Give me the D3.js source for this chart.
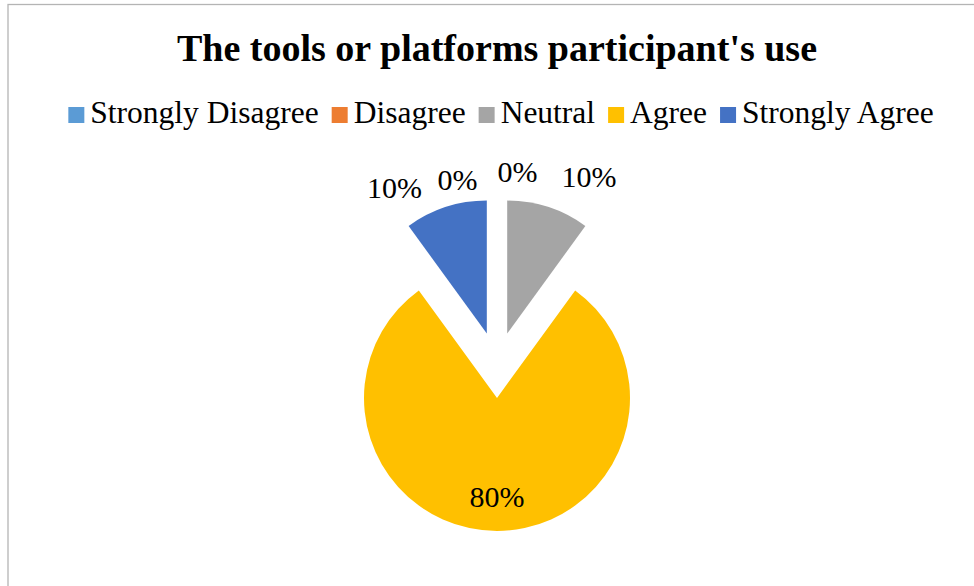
<!DOCTYPE html>
<html>
<head>
<meta charset="utf-8">
<script src="https://cdn.jsdelivr.net/npm/d3@7"></script>
<style>
  body { margin: 0; background: #fff; }
  text { font-family: "Liberation Serif", "Times New Roman", serif; fill: #000; }
</style>
</head>
<body>
<div id="chart"></div>
<script>
// data
var categories = ["Strongly Disagree", "Disagree", "Neutral", "Agree", "Strongly Agree"];
var percents = [0, 0, 10, 80, 10];
var colors = ["#5B9BD5", "#ED7D31", "#A5A5A5", "#FFC000", "#4472C4"];
var title = "The tools or platforms participant's use";

// label placement (degrees nudge from slice middle, distance from pie centre)
var labelNudge = [-12, 6, 8, 0, -12];
var labelDist = [190, 195, 210, 131, 205];

var width = 974, height = 586;
var cx = 497, cy = 365, radius = 133, explode = 33;

var svg = d3.select("#chart").append("svg")
    .attr("width", width)
    .attr("height", height);

// chart border
svg.append("rect")
    .attr("x", 8).attr("y", 4.5)
    .attr("width", 1000).attr("height", 1000)
    .attr("fill", "none")
    .attr("stroke", "#b4b4b4")
    .attr("stroke-width", 1.3);

svg.append("text")
    .attr("x", 497).attr("y", 61)
    .attr("text-anchor", "middle")
    .style("font-size", "38px")
    .style("font-weight", "bold")
    .text(title);

// legend, centred
var legend = svg.append("g").attr("class", "legend");
var items = legend.selectAll("g")
    .data(categories)
  .enter().append("g");
items.append("rect")
    .attr("width", 16).attr("height", 16)
    .attr("y", 107)
    .attr("fill", function(d, i) { return colors[i]; });
items.append("text")
    .attr("y", 123)
    .style("font-size", "31.5px")
    .text(function(d) { return d; });

var x = 0;
items.each(function() {
  var g = d3.select(this);
  var w = g.select("text").node().getComputedTextLength();
  g.select("rect").attr("x", x);
  g.select("text").attr("x", x + 22);
  x += 22 + w + 13;
});
var legendWidth = x - 13;
legend.attr("transform", "translate(" + (501 - legendWidth / 2) + ",0)");

// pie
var pie = d3.pie().sort(null).value(function(d) { return d; });
var arcs = pie(percents);
var arc = d3.arc().innerRadius(0).outerRadius(radius);

var pieG = svg.append("g").attr("transform", "translate(" + cx + "," + cy + ")");

function mid(d) { return (d.startAngle + d.endAngle) / 2; }

pieG.selectAll("path")
    .data(arcs.filter(function(d) { return d.value > 0; }))
  .enter().append("path")
    .attr("d", arc)
    .attr("fill", function(d) { return colors[d.index]; })
    .attr("transform", function(d) {
      var a = mid(d);
      return "translate(" + (Math.sin(a) * explode) + "," + (-Math.cos(a) * explode) + ")";
    });

pieG.selectAll("text.label")
    .data(arcs)
  .enter().append("text")
    .attr("class", "label")
    .attr("text-anchor", "middle")
    .attr("dy", "0.35em")
    .style("font-size", "30px")
    .attr("x", function(d) {
      var a = mid(d) + labelNudge[d.index] * Math.PI / 180;
      return Math.sin(a) * labelDist[d.index];
    })
    .attr("y", function(d) {
      var a = mid(d) + labelNudge[d.index] * Math.PI / 180;
      return -Math.cos(a) * labelDist[d.index];
    })
    .text(function(d) { return d.value + "%"; });
</script>
</body>
</html>
